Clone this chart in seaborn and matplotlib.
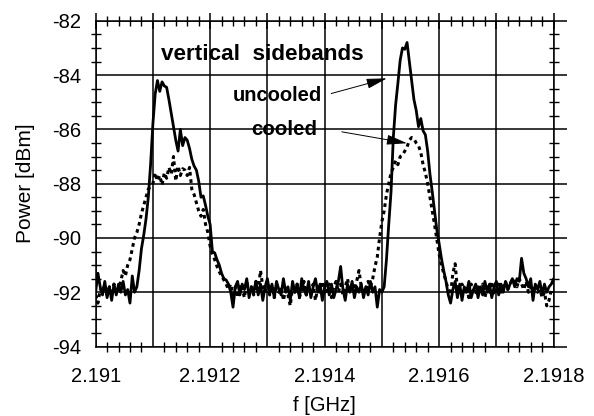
import numpy as np
import seaborn as sns
import matplotlib.pyplot as plt
from matplotlib.ticker import MultipleLocator, FuncFormatter

# spectrum analyzer sweep 2.191 .. 2.1918 GHz
f_start = 2.191
f_stop = 2.1918

uncooled = [
    -92.0, -91.3, -91.8, -92.1, -91.6, -92.2, -91.8, -92.3, -91.7, -92.1,
    -91.7, -92.0, -91.6, -92.1, -91.9, -92.4, -91.4, -92.0, -91.8, -91.2,
    -90.4, -89.9, -89.3, -88.5, -87.3, -85.8, -84.7, -84.2, -84.6, -84.25,
    -84.4, -84.45, -84.9, -85.4, -85.9, -86.4, -86.8, -86.0, -86.6, -86.3,
    -86.4, -86.7, -87.1, -87.35, -87.5, -87.9, -88.5, -88.45, -88.8, -89.2,
    -89.5, -90.5, -90.55, -90.8, -91.0, -91.3, -91.5, -91.55, -91.7, -92.0,
    -92.55, -91.8, -91.6, -92.1, -91.7, -91.9, -91.5, -92.2, -91.8, -92.0,
    -91.6, -92.1, -91.7, -92.3, -91.8, -91.5, -92.0, -91.7, -92.2, -91.6,
    -91.9, -92.1, -91.5, -92.0, -91.8, -92.3, -91.6, -92.0, -91.7, -92.2,
    -91.5, -91.9, -92.1, -91.6, -92.2, -91.8, -91.5, -92.0, -91.7, -92.3,
    -91.8, -91.6, -92.1, -91.7, -92.2, -91.9, -91.6, -91.05, -91.9, -92.3,
    -91.7, -92.0, -91.6, -92.2, -91.8, -92.0, -91.7, -92.2, -91.8, -92.1,
    -91.6, -92.0, -91.8, -92.55, -91.9, -92.0, -91.8, -90.8, -89.5, -88.3,
    -86.3, -85.1, -84.3, -83.45, -83.0, -83.05, -82.8, -83.5, -84.2, -84.9,
    -85.3, -85.9, -85.6, -86.05, -86.2, -86.8, -87.65, -88.3, -89.0, -89.7,
    -90.2, -90.75, -91.2, -91.6, -92.1, -92.4, -91.9, -91.6, -92.2, -91.7,
    -92.3, -91.8, -92.0, -91.6, -92.2, -91.9, -91.7, -92.2, -91.8, -92.1,
    -91.6, -92.0, -91.7, -92.2, -91.8, -91.6, -92.1, -91.7, -92.0, -91.6,
    -91.9, -91.7, -91.5, -91.8, -91.5, -91.6, -90.75, -91.3, -91.5, -91.8,
    -91.5, -92.3, -91.7, -91.9, -91.6, -92.1, -91.7, -92.0, -91.8, -91.7,
    -91.5,
]

cooled = [
    -92.1, -92.4, -91.9, -92.0, -91.7, -92.1, -91.8, -92.0, -91.7, -91.9,
    -91.9, -91.6, -91.2, -91.4, -91.0, -90.8, -90.4, -90.0, -89.8, -89.5,
    -89.1, -88.8, -88.5, -88.2, -88.1, -88.0, -87.6, -87.9, -87.7, -88.05,
    -87.6, -87.8, -87.4, -87.65, -87.0, -87.9, -87.35, -87.7, -87.45, -87.5,
    -87.7, -87.4, -88.2, -88.4, -88.7, -89.0, -89.2, -88.95, -89.5, -89.8,
    -90.3, -90.6, -90.8, -91.05, -91.25, -91.4, -91.55, -91.7, -91.9, -91.7,
    -92.1, -91.8, -92.2, -91.7, -91.9, -92.2, -91.6, -92.0, -91.8, -92.1,
    -91.6, -91.9, -91.2, -91.8, -92.0, -91.6, -92.1, -91.8, -92.2, -91.7,
    -92.0, -91.8, -92.3, -91.9, -92.1, -92.5, -91.8, -92.0, -91.7, -92.2,
    -91.9, -91.6, -92.1, -91.8, -92.0, -91.7, -92.3, -91.8, -92.0, -91.6,
    -92.1, -91.9, -91.7, -92.2, -91.8, -91.6, -92.0, -91.7, -92.1, -91.8,
    -91.5, -92.0, -91.7, -91.9, -91.6, -91.2, -91.8, -92.0, -91.9, -91.6,
    -91.8, -91.5, -91.05, -90.7, -90.0, -89.4, -89.0, -88.4, -88.0, -87.6,
    -87.4, -87.15, -87.3, -87.0, -86.95, -86.8, -86.65, -86.4, -86.3, -86.35,
    -86.5, -86.6, -86.85, -87.3, -87.6, -88.0, -88.5, -89.0, -89.5, -90.05,
    -90.6, -91.0, -91.3, -91.6, -91.9, -92.1, -91.3, -90.95, -91.9, -92.0,
    -91.7, -92.1, -91.8, -92.2, -91.7, -91.9, -92.1, -91.8, -92.0, -91.7,
    -92.2, -91.8, -92.0, -91.6, -92.1, -91.9, -91.7, -92.0, -91.8, -91.6,
    -91.9, -91.7, -91.5, -91.6, -91.8, -91.5, -91.7, -91.9, -91.6, -92.0,
    -91.8, -92.1, -91.7, -92.0, -91.9, -92.2, -92.0, -92.5, -92.3, -91.9,
    -92.0,
]

freq = np.linspace(f_start, f_stop, len(uncooled))

sns.set_style('white')
plt.rcParams['font.family'] = ['Liberation Sans', 'DejaVu Sans']
plt.rcParams['axes.unicode_minus'] = False
plt.rcParams['text.color'] = 'black'
plt.rcParams['axes.labelcolor'] = 'black'
plt.rcParams['xtick.color'] = 'black'
plt.rcParams['ytick.color'] = 'black'

fig = plt.figure(figsize=(5.94, 4.16), dpi=100)
ax = fig.add_axes([0.161, 0.167, 0.771, 0.783])

sns.lineplot(x=freq, y=uncooled, ax=ax, color='black', lw=2.0)
sns.lineplot(x=np.linspace(f_start, f_stop, len(cooled)), y=cooled, ax=ax,
             color='black', lw=2.2, linestyle=(0, (1.2, 1.2)))

ax.set_xlim(f_start, f_stop)
ax.set_ylim(-94, -82)

ax.xaxis.set_major_locator(MultipleLocator(0.0001))
ax.xaxis.set_minor_locator(MultipleLocator(0.00002))
ax.yaxis.set_major_locator(MultipleLocator(2))
ax.yaxis.set_minor_locator(MultipleLocator(0.5))


def xfmt(v, pos):
    k = int(round((v - f_start) / 0.0001))
    if k % 2:
        return ''
    return f'{v:.4f}'.rstrip('0')


ax.xaxis.set_major_formatter(FuncFormatter(xfmt))
ax.yaxis.set_major_formatter(FuncFormatter(lambda v, p: f'{v:.0f}'))

ax.grid(True, which='major', color='black', lw=1.1)
for s in ax.spines.values():
    s.set_color('black')
    s.set_linewidth(1.1)

ax.tick_params(axis='x', which='major', direction='inout', length=12, width=1.1,
               top=True, labelsize=14.5, pad=9)
ax.tick_params(axis='y', which='major', direction='out', length=9.5, width=1.1,
               right=True, labelsize=14.5, pad=1)
ax.tick_params(which='minor', direction='inout', length=7, width=1.0,
               top=True, right=True, bottom=True, left=True)

ax.set_xlabel('f [GHz]', fontsize=14.5, labelpad=7)
ax.set_ylabel('Power [dBm]', fontsize=15, labelpad=12)

ax.text(2.191114, -83.45, 'vertical  sidebands', fontsize=16.2, fontweight='bold')
ax.text(2.191240, -84.96, 'uncooled', fontsize=14.5, fontweight='bold')
ax.text(2.1912727, -86.21, 'cooled', fontsize=14.8, fontweight='bold')

arrow = dict(arrowstyle='-|>,head_length=0.9,head_width=0.22', color='black',
             lw=0.7, shrinkA=0, shrinkB=0, mutation_scale=14)
ax.annotate('', xy=(2.1915087, -84.12), xytext=(2.1914115, -84.68), arrowprops=arrow)
ax.annotate('', xy=(2.191544, -86.51), xytext=(2.191430, -86.09), arrowprops=arrow)

fig.savefig('out.png', dpi=100)
